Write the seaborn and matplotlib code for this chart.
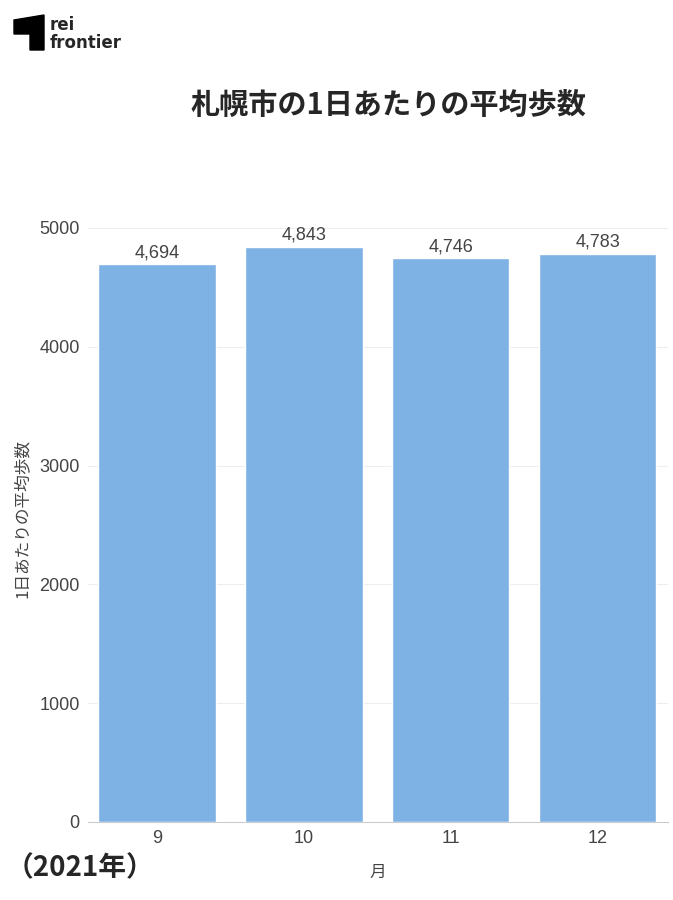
import matplotlib
matplotlib.use("Agg")
import matplotlib.pyplot as plt
import matplotlib.patches as mpatches
import seaborn as sns
import pandas as pd

months = ["9", "10", "11", "12"]
steps = [4694, 4843, 4746, 4783]
yticks = [0, 1000, 2000, 3000, 4000, 5000]

sns.set_style("white")
plt.rcParams['font.family'] = ['Noto Sans CJK JP', 'DejaVu Sans']
num_font = ['Liberation Sans', 'Noto Sans CJK JP']

df = pd.DataFrame({"month": months, "steps": steps})

fig = plt.figure(figsize=(6.73, 9.0), dpi=100)
ax = fig.add_axes([88 / 673, 78 / 900, 580 / 673, 606 / 900])
sns.barplot(data=df, x="month", y="steps", color="#7EB2E4", saturation=1,
            width=0.8, ax=ax)
ax.set_ylim(0, 5100)
ax.set_xlim(-0.47, 3.48)
ax.set_yticks(yticks)
ax.yaxis.grid(True, color="#eeeeee", lw=0.8)
ax.set_axisbelow(True)
for s in ["top", "right", "left"]:
    ax.spines[s].set_visible(False)
ax.spines["bottom"].set_color("#cccccc")
ax.tick_params(axis="both", labelsize=13, colors="#444444", length=0, pad=6)
for lab in ax.get_xticklabels() + ax.get_yticklabels():
    lab.set_family(num_font)
ax.set_xlabel("月", fontsize=12, color="#444444", labelpad=12)
ax.set_ylabel("1日あたりの平均歩数", fontsize=12, color="#444444", labelpad=6)
for c in ax.containers:
    ax.bar_label(c, labels=[f"{v:,}" for v in steps], fontsize=13,
                 color="#444444", padding=2, family=num_font)

fig.text(388 / 673, 1 - 105 / 900, "札幌市の1日あたりの平均歩数", fontsize=21,
         fontweight="bold", ha="center", va="center")
fig.text(6 / 673, 1 - 868 / 900, "（2021年）", fontsize=20,
         fontweight="bold", ha="left", va="center")

# logo
fig.patches.append(mpatches.Polygon(
    [(14 / 673, 1 - 20 / 900), (44 / 673, 1 - 15 / 900), (44 / 673, 1 - 50 / 900),
     (30 / 673, 1 - 50 / 900), (30 / 673, 1 - 34 / 900), (14 / 673, 1 - 34 / 900)],
    closed=True, transform=fig.transFigure, color="black"))
fig.text(50 / 673, 1 - 25 / 900, "rei", fontsize=12, fontweight="bold",
         family="DejaVu Sans", va="center")
fig.text(50 / 673, 1 - 43 / 900, "frontier", fontsize=12, fontweight="bold",
         family="DejaVu Sans", va="center")

fig.savefig("out.png", dpi=100)
